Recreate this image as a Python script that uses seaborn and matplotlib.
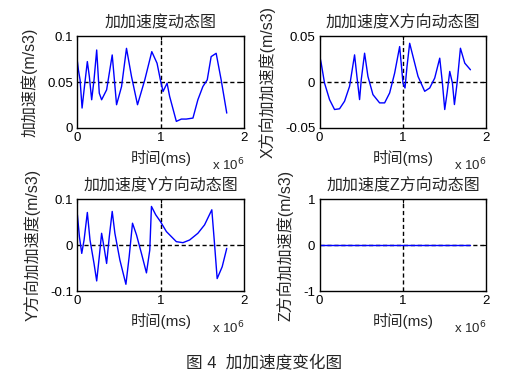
import matplotlib
matplotlib.use("Agg")
import matplotlib.pyplot as plt
import seaborn as sns
import pandas as pd

# Data (time in units of 1e6 ms)

t_all = [0, 0.012, 0.032, 0.056, 0.080, 0.119, 0.143, 0.171, 0.199, 0.231,
         0.262, 0.290, 0.350, 0.417, 0.469, 0.529, 0.588, 0.648, 0.720, 0.807,
         0.891, 0.954, 0.994, 1.026, 1.074, 1.105, 1.185, 1.245, 1.304, 1.384,
         1.443, 1.503, 1.555, 1.602, 1.662, 1.722, 1.789]
jerk_all = [0.0722, 0.0632, 0.0523, 0.0217, 0.0415, 0.0722, 0.0560, 0.0307,
            0.0523, 0.0848, 0.0379, 0.0307, 0.0415, 0.0794, 0.0253, 0.0451,
            0.0866, 0.0560, 0.0253, 0.0523, 0.0830, 0.0704, 0.0523, 0.0397,
            0.0487, 0.0343, 0.0072, 0.0097, 0.0097, 0.0108, 0.0307, 0.0451,
            0.0523, 0.0776, 0.0812, 0.0523, 0.0162]

t_x = [0, 0.02, 0.06, 0.12, 0.18, 0.24, 0.30, 0.36, 0.42, 0.448, 0.48, 0.50,
       0.54, 0.58, 0.64, 0.72, 0.78, 0.84, 0.90, 0.96, 1.00, 1.024, 1.048,
       1.08, 1.12, 1.18, 1.26, 1.32, 1.38, 1.44, 1.472, 1.50, 1.528, 1.56,
       1.592, 1.616, 1.648, 1.688, 1.74, 1.808]
jerk_x = [0.0295, 0.0205, -0.0011, -0.0191, -0.0299, -0.0291, -0.0209,
          -0.0047, 0.0295, 0.0061, -0.0191, 0.0025, 0.0313, 0.0061, -0.0137,
          -0.0227, -0.0227, -0.0119, 0.0097, 0.0385, -0.0011, -0.0065, 0.0169,
          0.0421, 0.0277, 0.0061, -0.0101, -0.0065, 0.0043, 0.0259, -0.0011,
          -0.0299, -0.0119, 0.0115, -0.0011, -0.0245, -0.0011, 0.0367, 0.0205,
          0.0133]

t_y = [0, 0.024, 0.052, 0.080, 0.119, 0.151, 0.199, 0.231, 0.262, 0.290,
       0.318, 0.350, 0.382, 0.417, 0.449, 0.509, 0.581, 0.620, 0.660, 0.708,
       0.767, 0.827, 0.867, 0.887, 0.938, 0.994, 1.066, 1.185, 1.264, 1.344,
       1.443, 1.523, 1.610, 1.642, 1.674, 1.734, 1.789]
jerk_y = [0.0657, 0.0182, -0.0182, 0.0109, 0.0708, 0.0109, -0.0401, -0.0781,
          -0.0255, 0.0255, -0.0036, -0.0401, 0.0182, 0.0730, 0.0255, -0.0328,
          -0.0854, -0.0255, 0.0474, 0.0219, -0.0182, -0.0606, -0.0109, 0.0839,
          0.0657, 0.0511, 0.0292, 0.0073, 0.0051, 0.0109, 0.0255, 0.0438,
          0.0766, 0.0036, -0.0730, -0.0474, -0.0073]

t_z = [0, 1.808]
jerk_z = [0, 0]

titles = ["加加速度动态图", "加加速度X方向动态图", "加加速度Y方向动态图", "加加速度Z方向动态图"]
ylabels = ["加加速度(m/s3)", "X方向加加速度(m/s3)", "Y方向加加速度(m/s3)", "Z方向加加速度(m/s3)"]
yticks = [[0, 0.05, 0.1], [-0.05, 0, 0.05], [-0.1, 0, 0.1], [-1, 0, 1]]
yticklabels = [["0", "0.05", "0.1"], ["-0.05", "0", "0.05"],
               ["-0.1", "0", "0.1"], ["-1", "0", "1"]]
xticks = [0, 1, 2]
caption = "图 4  加加速度变化图"

series = [(t_all, jerk_all), (t_x, jerk_x), (t_y, jerk_y), (t_z, jerk_z)]

#Style

sns.set_style("white")
plt.rcParams["font.family"] = ["Liberation Sans", "Noto Sans CJK SC"]
plt.rcParams["axes.unicode_minus"] = False

fig = plt.figure(figsize=(5.16, 3.86), dpi=100)
w, h = 0.3236, 0.2383
positions = [
    [0.150, 0.6684, w, h],
    [0.6192, 0.6684, w, h],
    [0.150, 0.2461, w, h],
    [0.6192, 0.2461, w, h],
]

for i in range(4):
    ax = fig.add_axes(positions[i])
    yt = yticks[i]
    ymid = yt[1]
    ax.axvline(1, color="black", lw=1, ls=(0, (3, 2)), zorder=1)
    ax.axhline(ymid, color="black", lw=1, ls=(0, (3, 2)), zorder=1)
    df = pd.DataFrame({"t": series[i][0], "j": series[i][1]})
    sns.lineplot(
        data=df,
        x="t",
        y="j",
        ax=ax,
        color="#0000ff",
        lw=1,
        estimator=None,
        sort=False,
        zorder=2
    )
    ax.set_xlim(0, 2)
    ax.set_ylim(yt[0], yt[2])
    ax.set_xticks(xticks)
    ax.set_xticklabels([str(v) for v in xticks])
    ax.set_yticks(yt)
    ax.set_yticklabels(yticklabels[i])
    ax.tick_params(direction="in", length=3, width=0.8, labelsize=9.5,
                   top=True, right=True, pad=3, colors="black")
    for s in ax.spines.values():
        s.set_color("black")
        s.set_linewidth(1)
    ax.set_title(titles[i], fontsize=11.5, pad=6)
    ax.set_xlabel("时间(ms)", fontsize=11, labelpad=4)
    ax.set_ylabel(ylabels[i], fontsize=11.5, labelpad=7)
    ax.text(1.0, -0.40, "x 10$^6$", transform=ax.transAxes,
            ha="right", va="center", fontsize=9.5)

fig.text(0.512, 0.06, caption, ha="center", va="center", fontsize=12)

plt.savefig("out.png", dpi=100)
